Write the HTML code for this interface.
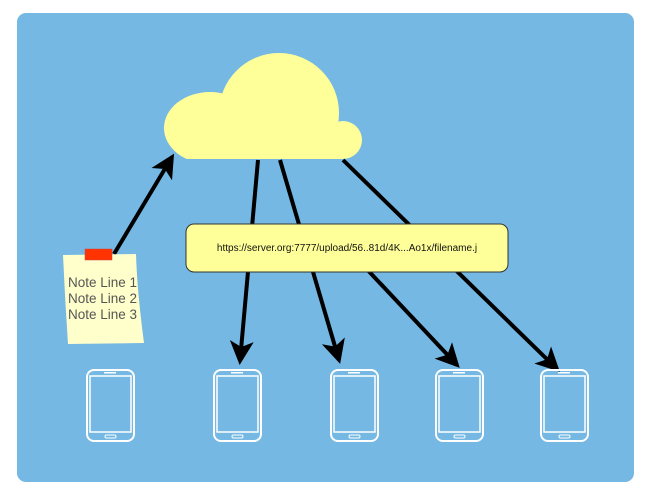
<!DOCTYPE html>
<html><head><style>
html,body{margin:0;padding:0;background:#fff;width:656px;height:491px;overflow:hidden}
</style></head><body>
<svg width="656" height="491" viewBox="0 0 656 491" xmlns="http://www.w3.org/2000/svg">
<defs>
<marker id="ah" markerWidth="6" markerHeight="6" refX="5" refY="3" orient="auto" markerUnits="strokeWidth">
<path d="M0,0 L6,3 L0,6 L1.5,3 z" fill="#000"/>
</marker>
<clipPath id="cc"><rect x="150" y="20" width="230" height="139" rx="16"/></clipPath>
<g id="ph">
<rect x="0" y="0" width="47" height="71" rx="7" fill="none" stroke="#fff" stroke-width="2"/>
<rect x="3" y="6" width="41" height="56" fill="none" stroke="#fff" stroke-width="1.5"/>
<rect x="17" y="2" width="12" height="1.5" fill="#fff"/>
<rect x="18" y="65" width="11" height="3" rx="1.5" fill="none" stroke="#fff" stroke-width="1"/>
</g>
</defs>
<rect x="17" y="13" width="617" height="469" rx="9" fill="#75b8e3"/>
<!-- cloud -->
<g fill="#ffff99" clip-path="url(#cc)">
<circle cx="279" cy="113" r="60"/>
<ellipse cx="210" cy="128" rx="46" ry="36"/>
<circle cx="343" cy="140" r="19"/>
<rect x="200" y="125" width="145" height="40"/>
</g>
<!-- arrows -->
<g stroke="#000" stroke-width="4" fill="none" marker-end="url(#ah)">
<line x1="114" y1="254" x2="172" y2="157"/>
<line x1="258" y1="160" x2="240" y2="361"/>
<line x1="280" y1="160" x2="339" y2="360"/>
<line x1="330" y1="230" x2="457" y2="365"/>
<line x1="343" y1="160" x2="557" y2="369"/>
</g>
<!-- url box -->
<rect x="186" y="224" width="322" height="48" rx="8" fill="#ffff99" stroke="#333" stroke-width="1"/>
<text x="347" y="251" font-family="Liberation Sans, sans-serif" font-size="10" text-anchor="middle" fill="#111">https://server.org:7777/upload/56..81d/4K...Ao1x/filename.j</text>
<!-- note -->
<path d="M63,255 L136,254 Q137,290 144,343 L68,344 Q65,300 63,255 z" fill="#ffffcc"/>
<rect x="85" y="249" width="27" height="11" fill="#ff3300" stroke="#c44" stroke-width="0.5"/>
<g font-family="Liberation Sans, sans-serif" font-size="13.5" fill="#555">
<text x="68" y="287">Note Line 1</text>
<text x="68" y="303">Note Line 2</text>
<text x="68" y="319">Note Line 3</text>
</g>
<!-- phones -->
<use href="#ph" x="87" y="370"/>
<use href="#ph" x="214" y="370"/>
<use href="#ph" x="331" y="370"/>
<use href="#ph" x="436" y="370"/>
<use href="#ph" x="541" y="370"/>
</svg>
</body></html>
